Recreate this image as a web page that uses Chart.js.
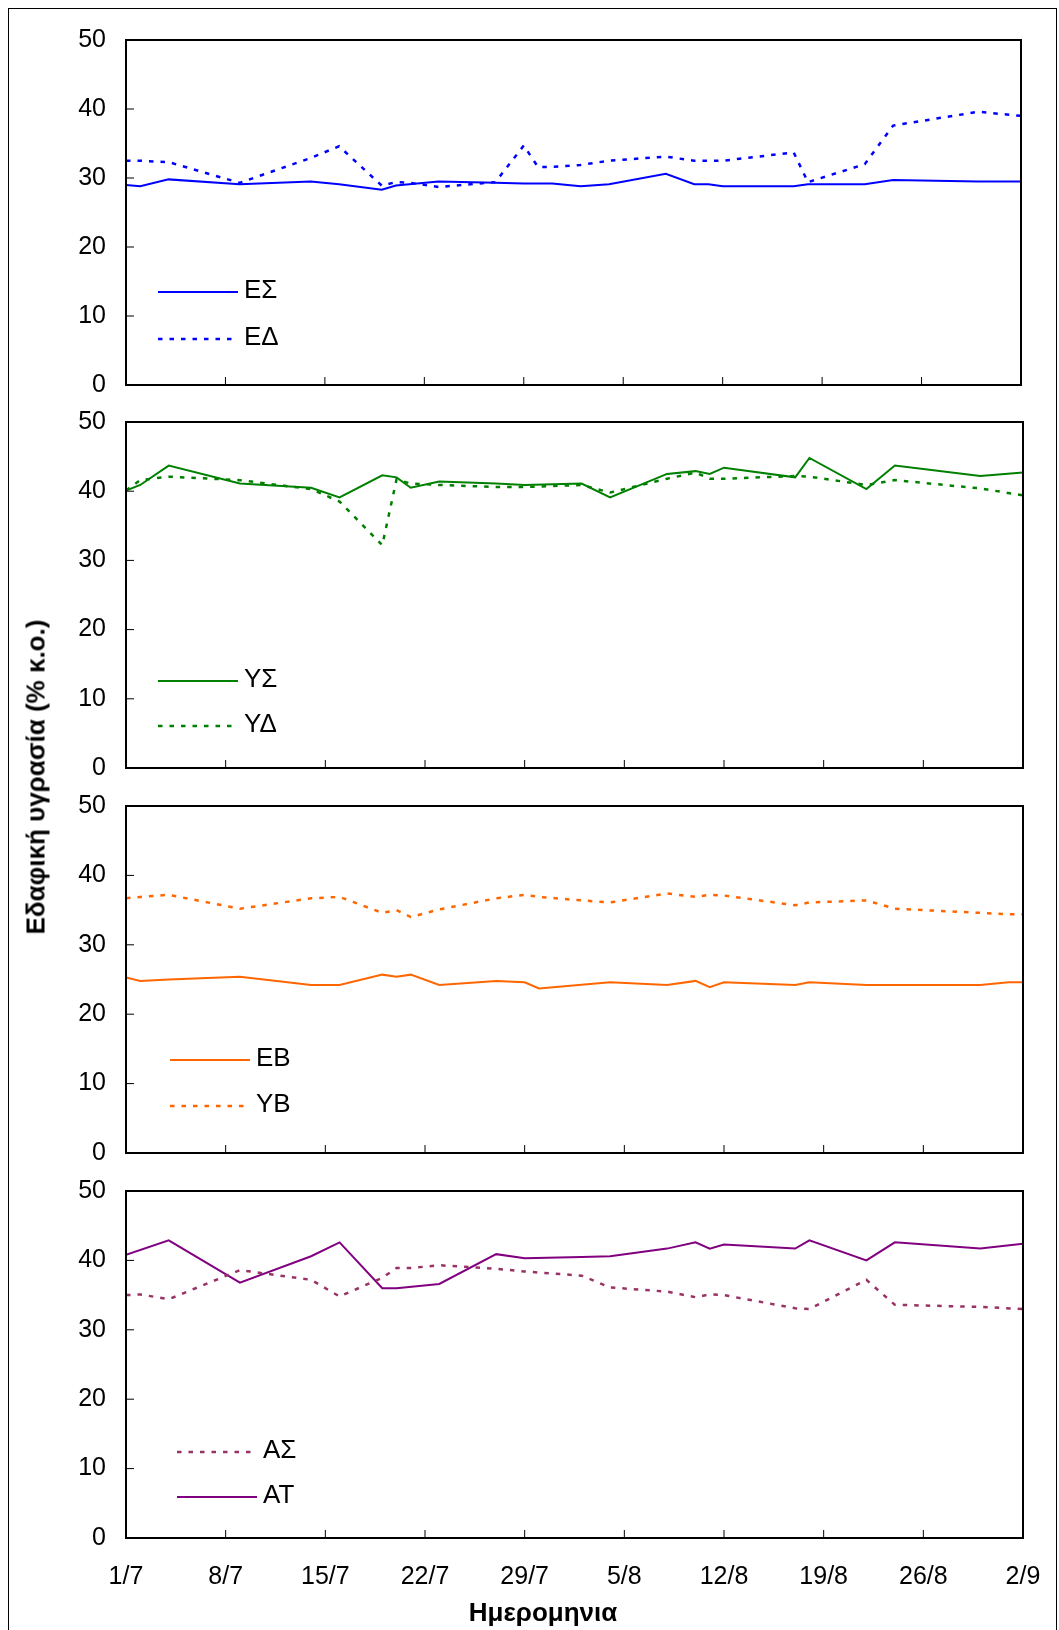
<!DOCTYPE html>
<html lang="el">
<head>
  <meta charset="UTF-8">
  <title>Εδαφική υγρασία</title>
  <script src="https://cdn.jsdelivr.net/npm/chart.js"></script>
  <style>
    body { margin:0; background:#fff; width:1059px; height:1630px; position:relative; overflow:hidden;
           font-family:"Liberation Sans", Arial, sans-serif; color:#000; }
    .frame { position:absolute; left:8px; top:8px; width:1049px; height:1660px; border:1.5px solid #000; box-sizing:border-box; }
    canvas { position:absolute; left:0; }
    #ytitle { position:absolute; left:36px; top:777px; transform:translate(-50%,-50%) rotate(-90deg);
              white-space:nowrap; font-weight:bold; font-size:26px; }
    #xtitle { position:absolute; left:543px; top:1612px; transform:translate(-50%,-50%);
              white-space:nowrap; font-weight:bold; font-size:26px; }
  </style>
</head>
<body>
  <div class="frame"></div>
  <!-- y labels add 35px (half line + padding) above/below each plot area -->
  <canvas id="p1" width="1059" height="415" style="top:5px"></canvas>
  <canvas id="p2" width="1059" height="416" style="top:387px"></canvas>
  <canvas id="p3" width="1059" height="417" style="top:771px"></canvas>
  <canvas id="p4" width="1059" height="474" style="top:1156px"></canvas>
  <div id="ytitle">Εδαφική υγρασία (% κ.ο.)</div>
  <div id="xtitle">Ημερομηνια</div>

  <script>
    // days after 1/7
    const days = [0,1,3,8,13,15,18,19,20,22,26,28,29,30,32,34,38,40,41,42,47,48,52,54,60,62,63];
    const dateTicks = [0,7,14,21,28,35,42,49,56,63];
    const dateLabels = ['1/7','8/7','15/7','22/7','29/7','5/8','12/8','19/8','26/8','2/9'];

    const ES = [29.0,28.8,29.8,29.1,29.5,29.1,28.3,28.9,null,29.5,29.3,29.2,null,29.2,28.8,29.1,30.6,29.1,29.1,28.8,28.8,29.1,29.1,29.7,29.5,null,29.5];
    const ED = [32.5,32.5,32.3,29.3,32.9,34.6,28.9,29.4,29.3,28.7,29.4,34.7,31.6,31.6,31.9,32.5,33.1,32.5,32.5,32.5,33.7,29.4,32.0,37.6,39.6,39.2,39.0];
    const YS = [40.1,40.9,43.7,41.1,40.5,39.1,42.3,42.0,40.5,41.4,41.1,40.9,null,null,41.1,39.1,42.5,42.9,42.5,43.4,42.0,44.8,40.3,43.7,42.2,null,42.7];
    const YD = [40.1,41.6,42.1,41.6,40.3,38.5,32.2,41.7,41.1,40.9,40.6,40.6,null,null,40.9,39.8,41.8,42.7,41.8,41.8,42.2,42.1,40.9,41.6,40.4,null,39.4];
    const EB = [25.3,24.8,25.0,25.4,24.2,24.2,25.7,25.4,25.7,24.2,24.8,24.6,23.7,null,null,24.6,24.2,24.8,23.9,24.6,24.2,24.6,24.2,24.2,24.2,24.6,24.6];
    const YB = [36.7,36.9,37.2,35.2,36.7,36.9,34.6,35.0,34.0,35.1,36.7,37.2,36.9,null,36.4,36.1,37.4,36.9,37.2,37.1,35.7,36.1,36.4,35.2,34.6,34.4,34.4];
    const AS = [35.0,35.1,34.4,38.6,37.2,34.8,37.5,38.9,38.9,39.3,38.8,38.4,null,null,37.8,36.1,35.5,34.7,35.1,35.0,33.1,33.0,37.2,33.6,33.3,null,33.0];
    const AT = [40.8,null,42.9,36.8,40.6,42.6,36.0,36.0,null,36.6,40.9,40.3,null,null,40.5,40.6,41.7,42.6,41.7,42.3,41.7,42.9,40.0,42.6,41.7,null,42.4];

    const FONT = '"Liberation Sans", Arial, sans-serif';
    Chart.defaults.font.family = FONT;
    Chart.defaults.color = '#000';

    function series(label, vals, color, dotted) {
      return {
        label,
        data: days.map((d, i) => ({ x: d, y: vals[i] })),
        borderColor: color,
        borderWidth: dotted ? 2.5 : 2,
        borderDash: dotted ? [4.5, 7] : [],
        pointRadius: 0,
        tension: 0,
        spanGaps: true,
        fill: false
      };
    }

    // plot frame + inward tick marks (excel style)
    const frameTicks = {
      id: 'frameTicks',
      afterDatasetsDraw(chart) {
        const { ctx, chartArea: a, scales: { x, y } } = chart;
        ctx.save();
        ctx.strokeStyle = '#000';
        ctx.lineWidth = 1;
        ctx.beginPath();
        dateTicks.forEach(v => {
          const px = x.getPixelForValue(v);
          ctx.moveTo(px, a.bottom);
          ctx.lineTo(px, a.bottom - 8);
        });
        y.ticks.forEach(t => {
          const py = y.getPixelForValue(t.value);
          ctx.moveTo(a.left, py);
          ctx.lineTo(a.left + 8, py);
        });
        ctx.stroke();
        ctx.lineWidth = 2;
        ctx.strokeRect(a.left, a.top, a.right - a.left, a.bottom - a.top);
        ctx.restore();
      }
    };

    const innerLegend = {
      id: 'innerLegend',
      afterDraw(chart, args, opts) {
        const { ctx, chartArea: a } = chart;
        chart.data.datasets.forEach((ds, i) => {
          const y = a.top + opts.top + i * opts.gap;
          const x0 = a.left + opts.left;
          ctx.save();
          ctx.strokeStyle = ds.borderColor;
          ctx.lineWidth = ds.borderWidth;
          ctx.setLineDash(ds.borderDash);
          ctx.beginPath();
          ctx.moveTo(x0, y);
          ctx.lineTo(x0 + 80, y);
          ctx.stroke();
          ctx.setLineDash([]);
          ctx.fillStyle = '#000';
          ctx.font = '26px ' + FONT;
          ctx.textBaseline = 'middle';
          ctx.fillText(ds.label, x0 + 86, y - 1);
          ctx.restore();
        });
      }
    };

    function makePanel(id, datasets, right, legendPos, showX) {
      const xAxis = {
        type: 'linear', min: 0, max: 63,
        display: showX,
        afterBuildTicks: s => { s.ticks = dateTicks.map(v => ({ value: v })); },
        grid: { display: false, drawTicks: false },
        border: { display: false },
        ticks: {
          autoSkip: false, maxRotation: 0, padding: 24,
          font: { size: 25 },
          callback: v => dateLabels[dateTicks.indexOf(v)]
        }
      };
      if (showX) xAxis.afterFit = s => { s.height = 92; s.paddingLeft = 0; s.paddingRight = 0; };

      new Chart(document.getElementById(id), {
        type: 'line',
        data: { datasets },
        options: {
          responsive: false,
          animation: false,
          layout: { padding: { left: 0, top: 0, right: 1059 - right, bottom: 0 } },
          scales: {
            x: xAxis,
            y: {
              min: 0, max: 50,
              ticks: { stepSize: 10, padding: 20, font: { size: 25 } },
              grid: { display: false, drawTicks: false },
              border: { display: false },
              afterFit: s => { s.width = 126; }
            }
          },
          plugins: {
            legend: { display: false },
            tooltip: { enabled: false },
            innerLegend: legendPos
          }
        },
        plugins: [frameTicks, innerLegend]
      });
    }

    makePanel('p1', [series('ΕΣ', ES, '#0000ff', false), series('ΕΔ', ED, '#0000ff', true)],
      1021, { left: 32, top: 252, gap: 47 }, false);
    makePanel('p2', [series('ΥΣ', YS, '#008000', false), series('ΥΔ', YD, '#008000', true)],
      1023, { left: 32, top: 259, gap: 45 }, false);
    makePanel('p3', [series('ΕΒ', EB, '#ff6600', false), series('ΥΒ', YB, '#ff6600', true)],
      1023, { left: 44, top: 254, gap: 46 }, false);
    makePanel('p4', [series('ΑΣ', AS, '#993366', true), series('ΑΤ', AT, '#800080', false)],
      1023, { left: 51, top: 261, gap: 45 }, true);
  </script>
</body>
</html>
